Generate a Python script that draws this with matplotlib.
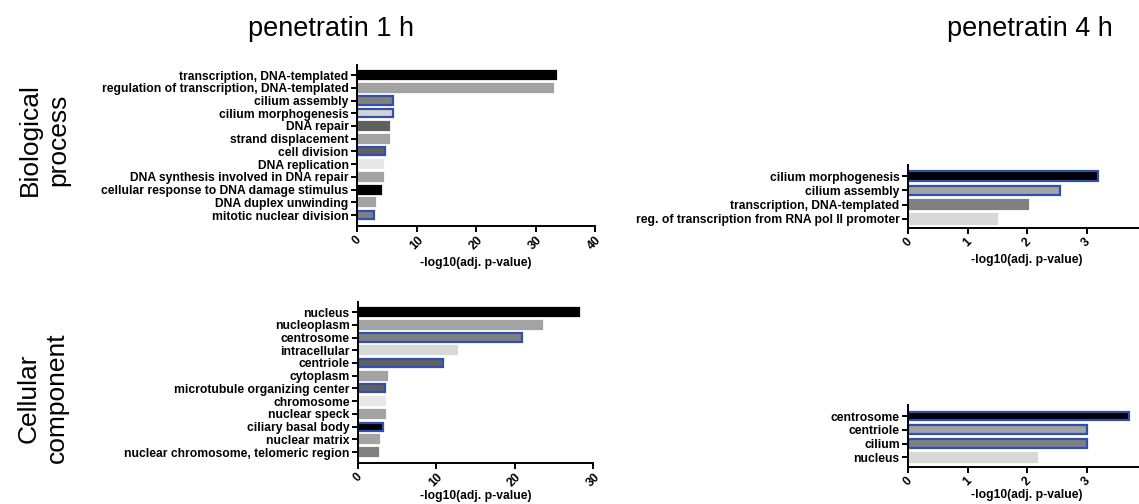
import matplotlib.pyplot as plt
import numpy as np

plt.rcParams['font.family'] = ['Liberation Sans', 'DejaVu Sans']

# GO term enrichment, penetratin 1 h / 4 h
bp_1h_terms = ['transcription, DNA-templated', 'regulation of transcription, DNA-templated',
               'cilium assembly', 'cilium morphogenesis', 'DNA repair', 'strand displacement',
               'cell division', 'DNA replication', 'DNA synthesis involved in DNA repair',
               'cellular response to DNA damage stimulus', 'DNA duplex unwinding',
               'mitotic nuclear division']
bp_1h_vals = [33.4, 32.9, 6.1, 6.1, 5.4, 5.4, 4.7, 4.4, 4.3, 4.1, 3.0, 2.9]
bp_1h_fill = ['#000000', '#a3a3a3', '#808080', '#d4d4d4', '#606060', '#a3a3a3',
              '#606060', '#e8e8e8', '#a3a3a3', '#000000', '#a3a3a3', '#808080']
bp_1h_blue = [0, 0, 1, 1, 0, 0, 1, 0, 0, 0, 0, 1]

bp_4h_terms = ['cilium morphogenesis', 'cilium assembly', 'transcription, DNA-templated',
               'reg. of transcription from RNA pol II promoter']
bp_4h_vals = [3.2, 2.56, 2.01, 1.5]
bp_4h_fill = ['#000000', '#a3a3a3', '#808080', '#d8d8d8']
bp_4h_blue = [1, 1, 0, 0]

cc_1h_terms = ['nucleus', 'nucleoplasm', 'centrosome', 'intracellular', 'centriole',
               'cytoplasm', 'microtubule organizing center', 'chromosome', 'nuclear speck',
               'ciliary basal body', 'nuclear matrix', 'nuclear chromosome, telomeric region']
cc_1h_vals = [28.2, 23.5, 20.9, 12.7, 10.8, 3.7, 3.5, 3.5, 3.4, 3.2, 2.7, 2.5]
cc_1h_fill = ['#000000', '#a3a3a3', '#808080', '#d8d8d8', '#606060', '#a3a3a3',
              '#606060', '#e8e8e8', '#a3a3a3', '#000000', '#a3a3a3', '#808080']
cc_1h_blue = [0, 0, 1, 0, 1, 0, 1, 0, 0, 1, 0, 0]

cc_4h_terms = ['centrosome', 'centriole', 'cilium', 'nucleus']
cc_4h_vals = [3.72, 3.0, 3.0, 2.17]
cc_4h_fill = ['#000000', '#a3a3a3', '#808080', '#d8d8d8']
cc_4h_blue = [1, 1, 1, 0]

W, H = 1139, 504
BLUE = '#3050b0'
FS = 8.7


def px_axes(fig, left, right, top, bottom):
    return fig.add_axes([left / W, 1 - bottom / H, (right - left) / W, (bottom - top) / H])


def go_bars(ax, terms, vals, fills, blue, xmax, xticks, pad_top, pad_bot, height=0.64, lpad=3):
    y = np.arange(len(terms))
    edges = [BLUE if b else fc for b, fc in zip(blue, fills)]
    ax.barh(y, vals, height=height, color=fills, edgecolor=edges, linewidth=1.6)
    ax.set_yticks(y)
    ax.set_yticklabels(terms, fontsize=FS, fontweight='bold')
    ax.set_ylim(len(terms) - 1 + pad_bot, -pad_top)
    ax.set_xlim(0, xmax)
    ax.set_xticks(xticks)
    ax.set_xticklabels([str(t) for t in xticks], rotation=45, fontsize=FS,
                       fontweight='bold', ha='center', va='top')
    ax.set_xlabel('-log10(adj. p-value)', fontsize=FS, fontweight='bold', labelpad=lpad)
    for s in ['top', 'right']:
        ax.spines[s].set_visible(False)
    for s in ['left', 'bottom']:
        ax.spines[s].set_linewidth(1.4)
    ax.tick_params(axis='both', direction='out', width=1.4, length=4, pad=2)


fig = plt.figure(figsize=(W / 100, H / 100), dpi=100)

ax1 = px_axes(fig, 357, 595, 65, 226)
go_bars(ax1, bp_1h_terms, bp_1h_vals, bp_1h_fill, bp_1h_blue, 40, [0, 10, 20, 30, 40], 0.79, 0.86)

ax2 = px_axes(fig, 908, 1146, 165, 228)
go_bars(ax2, bp_4h_terms, bp_4h_vals, bp_4h_fill, bp_4h_blue, 4, [0, 1, 2, 3], 0.77, 0.63)

ax3 = px_axes(fig, 358, 593, 302, 463)
go_bars(ax3, cc_1h_terms, cc_1h_vals, cc_1h_fill, cc_1h_blue, 30, [0, 10, 20, 30], 0.79, 0.86,
        lpad=0.5)

ax4 = px_axes(fig, 908, 1146, 405, 467)
go_bars(ax4, cc_4h_terms, cc_4h_vals, cc_4h_fill, cc_4h_blue, 4, [0, 1, 2, 3], 0.8, 0.7,
        lpad=0.5)

fig.text(331 / W, 1 - 29 / H, 'penetratin 1 h', fontsize=19.5, ha='center', va='center')
fig.text(1030 / W, 1 - 29 / H, 'penetratin 4 h', fontsize=19.5, ha='center', va='center')
fig.text(44 / W, 1 - 140 / H, 'Biological\nprocess', fontsize=19, rotation=90,
         ha='center', va='center', linespacing=1.25)
fig.text(43 / W, 1 - 398 / H, 'Cellular\ncomponent', fontsize=19, rotation=90,
         ha='center', va='center', linespacing=1.25)

fig.savefig('out.png', dpi=100)
